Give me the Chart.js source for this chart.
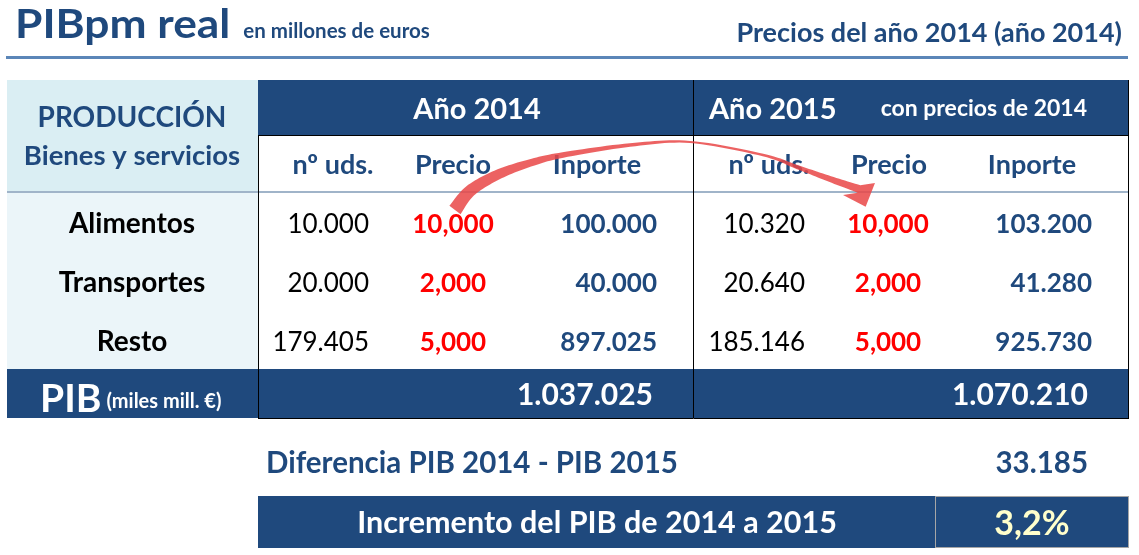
<!DOCTYPE html>
<html>
<head>
<meta charset="utf-8">
<title>PIBpm real</title>
<script src="https://cdn.jsdelivr.net/npm/chart.js@4"></script>
<style>
  html, body { margin: 0; padding: 0; background: #fff; }
  #wrap { width: 1139px; height: 555px; }
</style>
</head>
<body>
<div id="wrap"><canvas id="pib"></canvas></div>
<script>
const items = ['Alimentos', 'Transportes', 'Resto'];
const columns = ['nº uds.', 'Precio', 'Inporte'];
const years = ['Año 2014', 'Año 2015'];
const units2014 = [10000, 20000, 179405];
const prices2014 = [10, 2, 5];
const amounts2014 = [100000, 40000, 897025];
const units2015 = [10320, 20640, 185146];
const prices2015 = [10, 2, 5];
const amounts2015 = [103200, 41280, 925730];
const gdpTotals = [1037025, 1070210];
const gdpDifference = 33185;
const gdpGrowth = 3.2;

const BLUE = '#1f497d';
const RED = '#ff0000';
const FONT = 'Lato, "Open Sans", sans-serif';

// layout de la tabla (en unidades de las escalas)
const rowBaselines = [233, 292, 351];
const blocks = [
  { units: 369, price: 453, amount: 657, total: 653, heads: [333, 453, 597] },
  { units: 805, price: 888, amount: 1092, total: 1088, heads: [769, 889, 1032] }
];

function thousands(n) {
  return String(Math.round(n)).replace(/\B(?=(\d{3})+(?!\d))/g, '.');
}
function price(n) {
  return n.toFixed(3).replace('.', ',');
}

const tablePlugin = {
  id: 'tabla',
  afterDraw(chart) {
    const ctx = chart.ctx;
    const x = chart.scales.x, y = chart.scales.y;
    const X = v => x.getPixelForValue(v);
    const Y = v => y.getPixelForValue(v);

    function box(x0, y0, x1, y1, color) {
      ctx.fillStyle = color;
      ctx.fillRect(X(x0), Y(y0), X(x1) - X(x0), Y(y1) - Y(y0));
    }
    function line(x0, y0, x1, y1, color, w) {
      ctx.strokeStyle = color;
      ctx.lineWidth = w;
      ctx.beginPath();
      ctx.moveTo(X(x0), Y(y0));
      ctx.lineTo(X(x1), Y(y1));
      ctx.stroke();
    }
    // texto; sx estira en horizontal
    function text(str, xv, yv, font, color, align, sx) {
      sx = sx || 1;
      ctx.save();
      ctx.font = font;
      ctx.fillStyle = color;
      ctx.textAlign = align || 'left';
      ctx.textBaseline = 'alphabetic';
      ctx.translate(X(xv), Y(yv));
      ctx.scale(sx, 1);
      ctx.fillText(str, 0, 0);
      const w = ctx.measureText(str).width * sx;
      ctx.restore();
      return w;
    }

    ctx.save();

    // titulo
    const w = text('PIBpm real', 15, 38, 'bold 41px ' + FONT, BLUE, 'left', 1.08);
    text('en millones de euros', 15 + w + 13, 38, 'bold 20.5px ' + FONT, BLUE);
    text('Precios del año 2014 (año 2014)', 1122, 42, 'bold 27px ' + FONT, BLUE, 'right');
    line(6, 57.5, 1128, 57.5, '#5b86b8', 3);

    // fondos
    box(7, 80, 258, 192, '#daeef3');
    box(7, 192, 258, 369, '#ebf5f9');
    box(258, 80, 1129, 135, BLUE);
    box(7, 369, 1129, 418, BLUE);

    // lineas
    line(258, 135.5, 1129, 135.5, '#000', 1);
    line(7, 192, 1129, 192, '#a0b4c9', 2);
    line(258.5, 135, 258.5, 418, '#000', 1);
    line(693.5, 80, 693.5, 418, '#000', 1);
    line(1128.5, 80, 1128.5, 418, '#000', 1);
    line(258, 418.5, 1129, 418.5, '#000', 1);

    // cabecera izquierda
    text('PRODUCCIÓN', 132, 127, 'bold 28px ' + FONT, BLUE, 'center');
    text('Bienes y servicios', 132, 165, 'bold 27.5px ' + FONT, BLUE, 'center');

    // cabecera años
    text(years[0], 477, 119, 'bold 29px ' + FONT, '#fff', 'center');
    text(years[1], 709, 119, 'bold 29px ' + FONT, '#fff');
    text('con precios de 2014', 1087, 116, 'bold 23px ' + FONT, '#fff', 'right');
    blocks.forEach(b => {
      columns.forEach((c, i) => text(c, b.heads[i], 174, 'bold 27px ' + FONT, BLUE, 'center'));
    });

    // filas
    const series = [
      [units2014, prices2014, amounts2014],
      [units2015, prices2015, amounts2015]
    ];
    items.forEach((name, r) => {
      const by = rowBaselines[r];
      text(name, 132, by, 'bold 28px ' + FONT, '#000', 'center');
      blocks.forEach((b, k) => {
        const [u, p, a] = series[k];
        text(thousands(u[r]), b.units, by, '26px ' + FONT, '#000', 'right');
        text(price(p[r]), b.price, by, 'bold 26px ' + FONT, RED, 'center');
        text(thousands(a[r]), b.amount, by, 'bold 26px ' + FONT, BLUE, 'right');
      });
    });

    // PIB
    const pw = text('PIB', 40, 412, 'bold 39px ' + FONT, '#fff');
    text('(miles mill. €)', 40 + pw + 5, 408, 'bold 20px ' + FONT, '#fff');
    blocks.forEach((b, k) => text(thousands(gdpTotals[k]), b.total, 405, 'bold 30px ' + FONT, '#fff', 'right'));

    // diferencia e incremento
    text('Diferencia PIB 2014 - PIB 2015', 266, 473, 'bold 29.5px ' + FONT, BLUE);
    text(thousands(gdpDifference), 1088, 473, 'bold 29.5px ' + FONT, BLUE, 'right');
    box(258, 496, 1129, 548, BLUE);
    ctx.strokeStyle = '#a6a6a6';
    ctx.lineWidth = 1;
    ctx.strokeRect(X(935) + 0.5, Y(496) + 0.5, X(1128) - X(935), Y(547) - Y(496));
    text('Incremento del PIB de 2014 a 2015', 597, 533, 'bold 30.5px ' + FONT, '#fff', 'center');
    text(gdpGrowth.toFixed(1).replace('.', ',') + '%', 1032, 535, 'bold 34px ' + FONT, '#ffffcc', 'center');

    // flecha curva del precio 2014 al precio 2015
    const knots = [[455, 210], [470, 191], [497, 175], [530, 163], [563, 155], [630, 145],
                   [690, 142], [763, 155], [797, 167], [830, 179], [859, 189]];
    const widths = [14, 12, 10, 7.5, 5.5, 3.5, 2, 2.5, 4, 6, 8];
    const pts = [];
    for (let i = 0; i < knots.length - 1; i++) {
      const p0 = knots[Math.max(i - 1, 0)], p1 = knots[i], p2 = knots[i + 1], p3 = knots[Math.min(i + 2, knots.length - 1)];
      for (let s = 0; s < 12; s++) {
        const t = s / 12, t2 = t * t, t3 = t2 * t;
        const cr = (a, b, c, d) => 0.5 * (2 * b + (-a + c) * t + (2 * a - 5 * b + 4 * c - d) * t2 + (-a + 3 * b - 3 * c + d) * t3);
        pts.push([cr(p0[0], p1[0], p2[0], p3[0]), cr(p0[1], p1[1], p2[1], p3[1]), widths[i] + (widths[i + 1] - widths[i]) * t]);
      }
    }
    const last = knots[knots.length - 1];
    pts.push([last[0], last[1], widths[widths.length - 1]]);
    const left = [], right = [];
    pts.forEach((p, i) => {
      const a = pts[Math.max(i - 1, 0)], b = pts[Math.min(i + 1, pts.length - 1)];
      let dx = b[0] - a[0], dy = b[1] - a[1];
      const len = Math.hypot(dx, dy) || 1;
      dx /= len; dy /= len;
      left.push([p[0] - dy * p[2] / 2, p[1] + dx * p[2] / 2]);
      right.push([p[0] + dy * p[2] / 2, p[1] - dx * p[2] / 2]);
    });
    // punta
    const e = pts[pts.length - 1];
    const hx = 0.35, hy = 0.94;
    const head = [[e[0] - hy * 17, e[1] + hx * 17], [e[0] + hx * 19, e[1] + hy * 19], [e[0] + hy * 17, e[1] - hx * 17]];
    ctx.fillStyle = 'rgba(233, 70, 70, 0.85)';
    ctx.beginPath();
    left.forEach((p, i) => i ? ctx.lineTo(X(p[0]), Y(p[1])) : ctx.moveTo(X(p[0]), Y(p[1])));
    head.forEach(p => ctx.lineTo(X(p[0]), Y(p[1])));
    right.reverse().forEach(p => ctx.lineTo(X(p[0]), Y(p[1])));
    ctx.closePath();
    ctx.fill();

    ctx.restore();
  }
};

new Chart(document.getElementById('pib'), {
  type: 'scatter',
  data: { datasets: [] },
  options: {
    responsive: true,
    maintainAspectRatio: false,
    animation: false,
    layout: { padding: 0 },
    plugins: { legend: { display: false }, tooltip: { enabled: false } },
    scales: {
      x: { type: 'linear', min: 0, max: 1139, display: false },
      y: { type: 'linear', min: 0, max: 555, reverse: true, display: false }
    }
  },
  plugins: [tablePlugin]
});
</script>
</body>
</html>
